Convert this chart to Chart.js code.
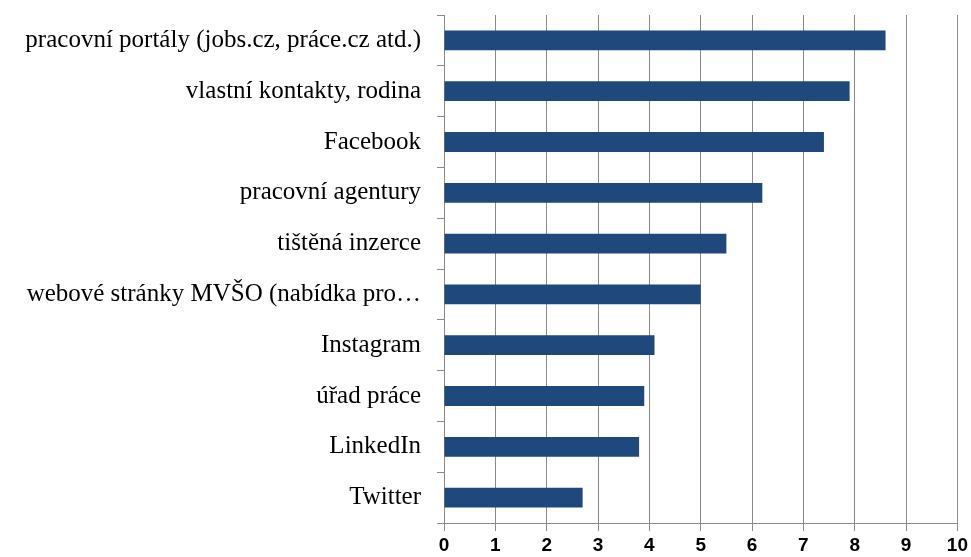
<!DOCTYPE html>
<html>
<head>
<meta charset="utf-8">
<script src="https://cdn.jsdelivr.net/npm/chart.js@4"></script>
<style>
  html, body { margin: 0; padding: 0; background: #fff; }
  canvas { display: block; }
</style>
</head>
<body>
<canvas id="chart" width="971" height="557"></canvas>
<script>
const categories = [
    "pracovní portály (jobs.cz, práce.cz atd.)",
    "vlastní kontakty, rodina",
    "Facebook",
    "pracovní agentury",
    "tištěná inzerce",
    "webové stránky MVŠO (nabídka pro…",
    "Instagram",
    "úřad práce",
    "LinkedIn",
    "Twitter"
];
const values = [8.6, 7.9, 7.4, 6.2, 5.5, 5.0, 4.1, 3.9, 3.8, 2.7];
const xTicks = [0, 1, 2, 3, 4, 5, 6, 7, 8, 9, 10];

const gridGray = '#8a8a8a';
const barBlue = '#1f497d';

const ctx = document.getElementById('chart');
const chart = new Chart(ctx, {
    type: 'bar',
    data: {
        labels: categories,
        datasets: [{
            data: values,
            backgroundColor: barBlue,
            borderWidth: 0,
            categoryPercentage: 1,
            barPercentage: 0.39
        }]
    },
    options: {
        indexAxis: 'y',
        responsive: false,
        animation: false,
        layout: { padding: { top: 15, right: 13, left: 0, bottom: 0 } },
        plugins: {
            legend: { display: false },
            tooltip: { enabled: false }
        },
        scales: {
            x: {
                min: xTicks[0],
                max: xTicks[xTicks.length - 1],
                afterBuildTicks: (scale) => {
                    scale.ticks = xTicks.map(v => ({ value: v }));
                },
                afterFit: (scale) => { scale.height = 34; },
                grid: {
                    color: gridGray,
                    lineWidth: 1,
                    drawTicks: true,
                    tickLength: 8,
                    tickColor: gridGray
                },
                border: { display: true, color: gridGray, width: 1 },
                ticks: {
                    padding: 3,
                    color: '#000',
                    font: { family: 'Liberation Sans', size: 19, weight: 'bold' }
                }
            },
            y: {
                offset: true,
                afterFit: (scale) => {
                    scale.width = 444;
                    // labels sit mid-category, so no extra room is needed above/below
                    scale.paddingTop = 0;
                    scale.paddingBottom = 0;
                },
                grid: {
                    display: true,
                    offset: true,
                    drawOnChartArea: false,
                    drawTicks: true,
                    tickLength: 7,
                    color: gridGray
                },
                border: { display: true, color: gridGray, width: 1 },
                ticks: {
                    padding: 16,
                    color: '#000',
                    autoSkip: false,
                    font: { family: 'Liberation Serif', size: 25 }
                }
            }
        }
    }
});
</script>
</body>
</html>
